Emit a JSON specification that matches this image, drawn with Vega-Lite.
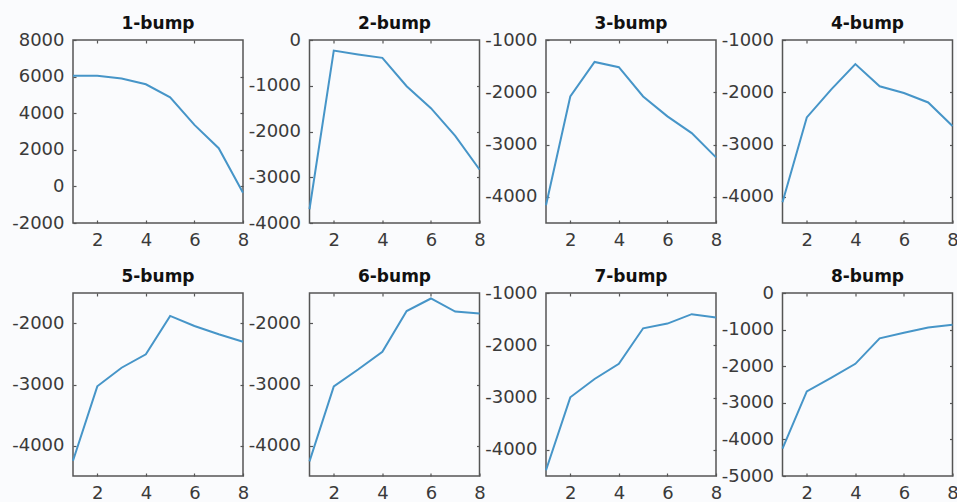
{
  "$schema": "https://vega.github.io/schema/vega-lite/v6.json",
  "background": "#fafbfd",
  "padding": {"left": 10, "top": 14, "right": 0, "bottom": 0},
  "datasets": {
    "p1": [{"x":1,"y":6050},{"x":2,"y":6050},{"x":3,"y":5900},{"x":4,"y":5580},{"x":5,"y":4870},{"x":6,"y":3360},{"x":7,"y":2090},{"x":8,"y":-350}],
    "p2": [{"x":1,"y":-3700},{"x":2,"y":-230},{"x":3,"y":-315},{"x":4,"y":-390},{"x":5,"y":-1010},{"x":6,"y":-1490},{"x":7,"y":-2095},{"x":8,"y":-2830}],
    "p3": [{"x":1,"y":-4160},{"x":2,"y":-2080},{"x":3,"y":-1420},{"x":4,"y":-1520},{"x":5,"y":-2080},{"x":6,"y":-2460},{"x":7,"y":-2780},{"x":8,"y":-3245}],
    "p4": [{"x":1,"y":-4105},{"x":2,"y":-2480},{"x":3,"y":-1950},{"x":4,"y":-1460},{"x":5,"y":-1885},{"x":6,"y":-2015},{"x":7,"y":-2195},{"x":8,"y":-2645}],
    "p5": [{"x":1,"y":-4250},{"x":2,"y":-3030},{"x":3,"y":-2725},{"x":4,"y":-2505},{"x":5,"y":-1875},{"x":6,"y":-2040},{"x":7,"y":-2175},{"x":8,"y":-2300}],
    "p6": [{"x":1,"y":-4260},{"x":2,"y":-3030},{"x":3,"y":-2755},{"x":4,"y":-2465},{"x":5,"y":-1795},{"x":6,"y":-1590},{"x":7,"y":-1805},{"x":8,"y":-1835}],
    "p7": [{"x":1,"y":-4390},{"x":2,"y":-2995},{"x":3,"y":-2645},{"x":4,"y":-2355},{"x":5,"y":-1675},{"x":6,"y":-1585},{"x":7,"y":-1405},{"x":8,"y":-1470}],
    "p8": [{"x":1,"y":-4250},{"x":2,"y":-2690},{"x":3,"y":-2320},{"x":4,"y":-1935},{"x":5,"y":-1240},{"x":6,"y":-1085},{"x":7,"y":-945},{"x":8,"y":-870}]
  },
  "columns": 4,
  "bounds": "flush",
  "spacing": {"row": 70, "column": 66.5},
  "concat": [
    {
      "title": {"text": "1-bump", "offset": -2}, "width": 170, "height": 183, "data": {"name": "p1"},
      "layer": [
        {"mark": "line", "encoding": {
          "x": {"field": "x", "type": "quantitative", "scale": {"domain": [1, 8], "nice": false, "zero": false}, "axis": {"title": null, "values": [2, 4, 6, 8], "orient": "bottom"}},
          "y": {"field": "y", "type": "quantitative", "scale": {"domain": [-2000, 8000], "nice": false, "zero": false}, "axis": {"title": null, "values": [-2000, 0, 2000, 4000, 6000, 8000], "labelExpr": "'' + datum.value", "orient": "left"}}}},
        {"mark": {"type": "line", "opacity": 0}, "encoding": {
          "x": {"field": "x", "type": "quantitative", "axis": {"title": null, "values": [2, 4, 6], "orient": "top", "labels": false}},
          "y": {"field": "y", "type": "quantitative", "axis": {"title": null, "values": [0, 2000, 4000, 6000], "orient": "right", "labels": false}}}}
      ],
      "resolve": {"axis": {"x": "independent", "y": "independent"}}
    },
    {
      "title": {"text": "2-bump", "offset": -2}, "width": 170, "height": 183, "data": {"name": "p2"},
      "layer": [
        {"mark": "line", "encoding": {
          "x": {"field": "x", "type": "quantitative", "scale": {"domain": [1, 8], "nice": false, "zero": false}, "axis": {"title": null, "values": [2, 4, 6, 8], "orient": "bottom"}},
          "y": {"field": "y", "type": "quantitative", "scale": {"domain": [-4000, 0], "nice": false, "zero": false}, "axis": {"title": null, "values": [-4000, -3000, -2000, -1000, 0], "labelExpr": "'' + datum.value", "orient": "left"}}}},
        {"mark": {"type": "line", "opacity": 0}, "encoding": {
          "x": {"field": "x", "type": "quantitative", "axis": {"title": null, "values": [2, 4, 6], "orient": "top", "labels": false}},
          "y": {"field": "y", "type": "quantitative", "axis": {"title": null, "values": [-3000, -2000, -1000], "orient": "right", "labels": false}}}}
      ],
      "resolve": {"axis": {"x": "independent", "y": "independent"}}
    },
    {
      "title": {"text": "3-bump", "offset": -2}, "width": 170, "height": 183, "data": {"name": "p3"},
      "layer": [
        {"mark": "line", "encoding": {
          "x": {"field": "x", "type": "quantitative", "scale": {"domain": [1, 8], "nice": false, "zero": false}, "axis": {"title": null, "values": [2, 4, 6, 8], "orient": "bottom"}},
          "y": {"field": "y", "type": "quantitative", "scale": {"domain": [-4500, -1000], "nice": false, "zero": false}, "axis": {"title": null, "values": [-4000, -3000, -2000, -1000], "labelExpr": "'' + datum.value", "orient": "left"}}}},
        {"mark": {"type": "line", "opacity": 0}, "encoding": {
          "x": {"field": "x", "type": "quantitative", "axis": {"title": null, "values": [2, 4, 6], "orient": "top", "labels": false}},
          "y": {"field": "y", "type": "quantitative", "axis": {"title": null, "values": [-4000, -3000, -2000], "orient": "right", "labels": false}}}}
      ],
      "resolve": {"axis": {"x": "independent", "y": "independent"}}
    },
    {
      "title": {"text": "4-bump", "offset": -2}, "width": 170, "height": 183, "data": {"name": "p4"},
      "layer": [
        {"mark": "line", "encoding": {
          "x": {"field": "x", "type": "quantitative", "scale": {"domain": [1, 8], "nice": false, "zero": false}, "axis": {"title": null, "values": [2, 4, 6, 8], "orient": "bottom"}},
          "y": {"field": "y", "type": "quantitative", "scale": {"domain": [-4500, -1000], "nice": false, "zero": false}, "axis": {"title": null, "values": [-4000, -3000, -2000, -1000], "labelExpr": "'' + datum.value", "orient": "left"}}}},
        {"mark": {"type": "line", "opacity": 0}, "encoding": {
          "x": {"field": "x", "type": "quantitative", "axis": {"title": null, "values": [2, 4, 6], "orient": "top", "labels": false}},
          "y": {"field": "y", "type": "quantitative", "axis": {"title": null, "values": [-4000, -3000, -2000], "orient": "right", "labels": false}}}}
      ],
      "resolve": {"axis": {"x": "independent", "y": "independent"}}
    },
    {
      "title": {"text": "5-bump", "offset": 6}, "width": 170, "height": 183, "data": {"name": "p5"},
      "layer": [
        {"mark": "line", "encoding": {
          "x": {"field": "x", "type": "quantitative", "scale": {"domain": [1, 8], "nice": false, "zero": false}, "axis": {"title": null, "values": [2, 4, 6, 8], "orient": "bottom"}},
          "y": {"field": "y", "type": "quantitative", "scale": {"domain": [-4500, -1500], "nice": false, "zero": false}, "axis": {"title": null, "values": [-4000, -3000, -2000], "labelExpr": "'' + datum.value", "orient": "left"}}}},
        {"mark": {"type": "line", "opacity": 0}, "encoding": {
          "x": {"field": "x", "type": "quantitative", "axis": {"title": null, "values": [2, 4, 6], "orient": "top", "labels": false}},
          "y": {"field": "y", "type": "quantitative", "axis": {"title": null, "values": [-4000, -3000, -2000], "orient": "right", "labels": false}}}}
      ],
      "resolve": {"axis": {"x": "independent", "y": "independent"}}
    },
    {
      "title": {"text": "6-bump", "offset": 6}, "width": 170, "height": 183, "data": {"name": "p6"},
      "layer": [
        {"mark": "line", "encoding": {
          "x": {"field": "x", "type": "quantitative", "scale": {"domain": [1, 8], "nice": false, "zero": false}, "axis": {"title": null, "values": [2, 4, 6, 8], "orient": "bottom"}},
          "y": {"field": "y", "type": "quantitative", "scale": {"domain": [-4500, -1500], "nice": false, "zero": false}, "axis": {"title": null, "values": [-4000, -3000, -2000], "labelExpr": "'' + datum.value", "orient": "left"}}}},
        {"mark": {"type": "line", "opacity": 0}, "encoding": {
          "x": {"field": "x", "type": "quantitative", "axis": {"title": null, "values": [2, 4, 6], "orient": "top", "labels": false}},
          "y": {"field": "y", "type": "quantitative", "axis": {"title": null, "values": [-4000, -3000, -2000], "orient": "right", "labels": false}}}}
      ],
      "resolve": {"axis": {"x": "independent", "y": "independent"}}
    },
    {
      "title": {"text": "7-bump", "offset": -2}, "width": 170, "height": 183, "data": {"name": "p7"},
      "layer": [
        {"mark": "line", "encoding": {
          "x": {"field": "x", "type": "quantitative", "scale": {"domain": [1, 8], "nice": false, "zero": false}, "axis": {"title": null, "values": [2, 4, 6, 8], "orient": "bottom"}},
          "y": {"field": "y", "type": "quantitative", "scale": {"domain": [-4500, -1000], "nice": false, "zero": false}, "axis": {"title": null, "values": [-4000, -3000, -2000, -1000], "labelExpr": "'' + datum.value", "orient": "left"}}}},
        {"mark": {"type": "line", "opacity": 0}, "encoding": {
          "x": {"field": "x", "type": "quantitative", "axis": {"title": null, "values": [2, 4, 6], "orient": "top", "labels": false}},
          "y": {"field": "y", "type": "quantitative", "axis": {"title": null, "values": [-4000, -3000, -2000], "orient": "right", "labels": false}}}}
      ],
      "resolve": {"axis": {"x": "independent", "y": "independent"}}
    },
    {
      "title": {"text": "8-bump", "offset": -2}, "width": 170, "height": 183, "data": {"name": "p8"},
      "layer": [
        {"mark": "line", "encoding": {
          "x": {"field": "x", "type": "quantitative", "scale": {"domain": [1, 8], "nice": false, "zero": false}, "axis": {"title": null, "values": [2, 4, 6, 8], "orient": "bottom"}},
          "y": {"field": "y", "type": "quantitative", "scale": {"domain": [-5000, 0], "nice": false, "zero": false}, "axis": {"title": null, "values": [-5000, -4000, -3000, -2000, -1000, 0], "labelExpr": "'' + datum.value", "orient": "left"}}}},
        {"mark": {"type": "line", "opacity": 0}, "encoding": {
          "x": {"field": "x", "type": "quantitative", "axis": {"title": null, "values": [2, 4, 6], "orient": "top", "labels": false}},
          "y": {"field": "y", "type": "quantitative", "axis": {"title": null, "values": [-4000, -3000, -2000, -1000], "orient": "right", "labels": false}}}}
      ],
      "resolve": {"axis": {"x": "independent", "y": "independent"}}
    }
  ],
  "config": {
    "font": "DejaVu Sans",
    "view": {"stroke": "#555555", "strokeWidth": 1.5},
    "axis": {"grid": false, "domain": false, "labelFont": "DejaVu Sans", "labelFontSize": 18, "labelColor": "#3a3a3a", "tickColor": "#555555", "tickSize": -3, "tickWidth": 1.2, "labelFlush": false, "labelOverlap": false},
    "axisX": {"labelPadding": 11},
    "axisY": {"labelPadding": 12},
    "title": {"font": "DejaVu Sans", "fontSize": 17, "fontWeight": "bold", "color": "#111111", "baseline": "alphabetic", "offset": 11},
    "line": {"color": "#4695c8", "strokeWidth": 2}
  }
}
